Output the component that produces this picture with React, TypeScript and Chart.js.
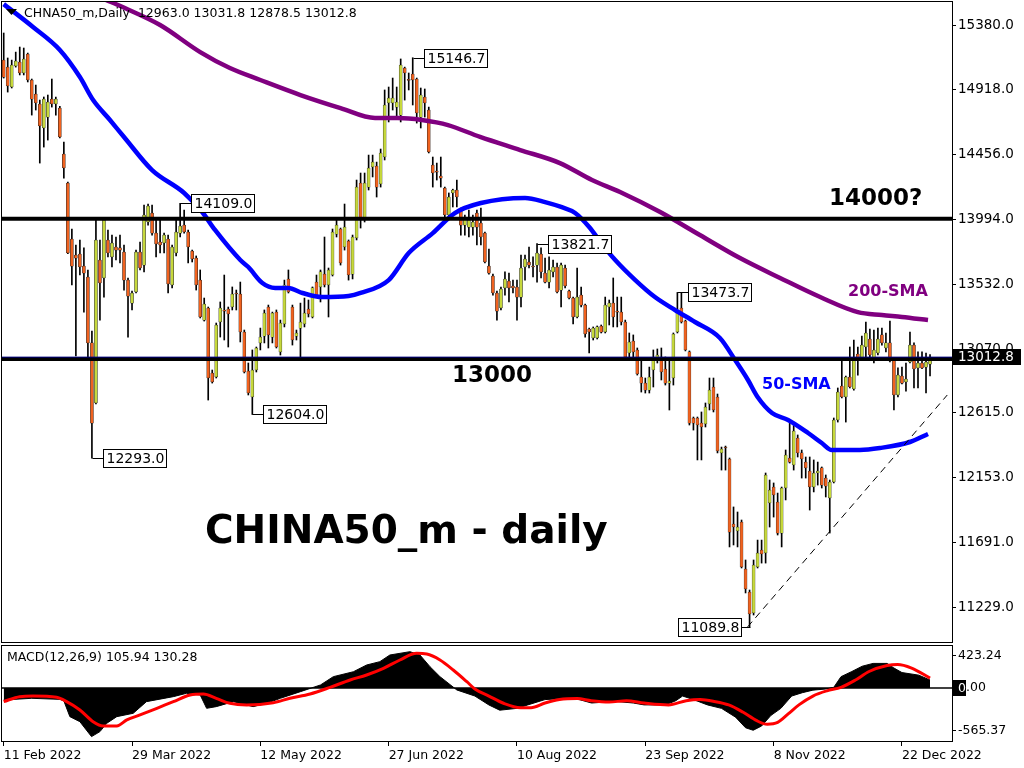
import React, { useEffect, useRef } from 'react';
import { Chart, registerables } from 'chart.js';

Chart.register(...registerables);

const FONT = '"DejaVu Sans", Verdana, sans-serif';

// ---- Daily candles (index 0 = 11 Feb 2022) ----
const openP = [
  15130,15080,14938,15088,15116,15038,15173,14988,14888,14817,
  14646,14724,14852,14817,14788,14460,14254,13855,13741,13748,
  13662,13584,13114,12686,13705,13577,13848,13727,13798,13791,
  13762,13562,13398,13477,13762,13669,13976,14040,13897,13833,
  13826,13855,13527,13755,13897,13954,13905,13769,13719,13562,
  13277,13363,12900,12871,13263,13349,13356,13370,13470,13463,
  13192,12914,12729,12921,13114,13163,13370,13156,13334,13050,
  13249,13570,13370,13163,13220,13249,13356,13299,13548,13513,
  13605,13527,13598,13890,13926,13798,13840,13605,13862,14254,
  13990,14225,14368,14375,14247,14439,14824,14824,14795,14738,
  15073,14988,15031,14995,14724,14867,14774,14382,14339,14304,
  14218,14026,14183,14204,14061,13954,13940,13940,14040,13969,
  13897,13662,13591,13470,13363,13506,13555,13520,13513,13441,
  13655,13691,13662,13669,13748,13612,13548,13620,13655,13491,
  13648,13484,13434,13299,13455,13384,13213,13149,13149,13235,
  13192,13370,13398,13341,13334,13263,13042,13128,13064,12871,
  12828,12778,12921,12992,13014,12928,12828,12864,13192,13363,
  13270,13050,12579,12579,12543,12536,12679,12800,12729,12330,
  12372,12287,11823,11774,11838,11503,11339,11189,11517,11638,
  11617,11973,12087,11980,11759,12080,12293,12244,12436,12330,
  12265,12201,12087,12187,12223,12151,12009,12123,12565,12807,
  12729,12871,12786,13035,13007,13085,13142,13007,13042,13171,
  13078,13114,13000,12743,12878,12836,12978,13099,12936,12971,
  12942,12963,
];
const highP = [
  15323,15145,15130,15187,15223,15216,15180,14995,14952,14845,
  14867,14881,14995,14867,14800,14546,14260,13926,13812,13848,
  13791,13634,13199,13990,13848,14000,13919,13883,13869,13883,
  13812,13577,13484,13776,13833,14097,14104,14097,13990,13990,
  13897,13883,13812,13990,14109,14061,13919,13776,13734,13634,
  13434,13370,12921,13256,13406,13598,13370,13513,13491,13548,
  13206,12971,13064,13085,13220,13349,13384,13334,13349,13277,
  13562,13634,13384,13206,13398,13434,13420,13513,13598,13634,
  13869,13648,13926,13990,13933,14104,13848,13883,14275,14325,
  14325,14453,14453,14403,14496,14917,14938,15002,14938,15138,
  15080,15038,15146.7,15002,14931,14924,14795,14439,14396,14439,
  14225,14183,14210,14275,14076,14026,14061,14026,14061,14076,
  13905,13783,13605,13484,13513,13620,13612,13562,13562,13741,
  13741,13798,13727,13821.7,13791,13719,13727,13705,13684,13684,
  13669,13491,13441,13648,13513,13391,13220,13228,13235,13242,
  13441,13420,13577,13441,13441,13277,13185,13171,13078,12992,
  12864,12942,13064,13071,13078,13014,12992,13185,13473.7,13470,
  13277,13057,12586,12586,12622,12686,12864,12864,12750,12372,
  12379,12294,11945,11909,11852,11567,11353,11567,11709,11709,
  12187,12137,12116,12044,12087,12351,12565,12529,12458,12351,
  12301,12301,12280,12265,12230,12173,12137,12579,12793,12992,
  12878,13085,13135,13085,13163,13263,13213,13206,13220,13220,
  13185,13270,13007,12936,12942,12971,13192,13114,13050,13050,
  13042,13031.8,
];
const lowP = [
  15002,14902,14931,15080,15024,15024,14974,14738,14774,14396,
  14510,14560,14795,14738,14575,14289,13750,13527,13021,13598,
  13334,13014,12293,12679,13277,13441,13727,13655,13705,13684,
  13491,13156,13349,13470,13634,13620,13954,13883,13727,13755,
  13755,13470,13506,13734,13869,13897,13684,13691,13491,13292,
  13270,12707,12828,12864,13156,13135,13085,13349,13349,13121,
  12900,12743,12604,12907,13064,13114,13078,13114,13078,13028,
  13228,13470,13099,13135,13014,13228,13299,13292,13441,13406,
  13513,13299,13591,13869,13669,13776,13562,13570,13848,13933,
  13976,14204,14297,14154,14225,14418,14689,14774,14724,14689,
  14845,14917,14810,14681,14646,14724,14468,14225,14275,14225,
  14011,14011,14083,14083,13883,13883,13869,13883,13812,13812,
  13684,13605,13455,13277,13349,13455,13406,13470,13277,13370,
  13562,13648,13584,13548,13577,13541,13506,13584,13470,13370,
  13506,13427,13249,13292,13370,13156,13042,13135,13142,13185,
  13185,13242,13228,13228,13242,13007,13014,13014,12885,12764,
  12757,12757,12800,12971,12850,12814,12636,12814,13185,13256,
  13057,12529,12493,12280,12280,12515,12636,12622,12330,12208,
  12208,11660,11674,11660,11510,11332,11089.8,11175,11510,11545,
  11545,11802,11873,11745,11660,11995,12258,12208,12301,12151,
  12151,11923,12052,12101,12080,12016,11759,12116,12550,12722,
  12550,12793,12778,12885,13000,13007,13014,12971,13028,13099,
  13050,12978,12636,12729,12822,12771,12971,12793,12793,12930,
  12757,12878.5,
];
const closeP = [
  15009,14945,15095,15123,15038,15138,14988,14852,14824,14660,
  14852,14831,14817,14852,14582,14361,13755,13662,13719,13655,
  13612,13114,12543,13848,13541,13990,13755,13826,13776,13776,
  13562,13448,13470,13762,13648,14026,14090,13897,13819,13812,
  13883,13534,13798,13905,13947,13905,13798,13712,13527,13299,
  13391,12864,12836,13242,13363,13341,13320,13463,13463,13192,
  12907,12757,12921,13078,13156,13327,13171,13327,13085,13256,
  13527,13477,13135,13185,13263,13327,13320,13506,13455,13620,
  13527,13634,13905,13954,13684,13940,13598,13869,14225,13990,
  14254,14361,14403,14225,14468,14810,14860,14860,14831,15095,
  15038,14985,14988,14753,14881,14824,14475,14325,14332,14289,
  14026,14154,14204,14154,13954,14011,13990,13976,13940,13869,
  13691,13612,13470,13341,13498,13570,13506,13506,13441,13648,
  13712,13669,13655,13755,13620,13548,13634,13655,13477,13669,
  13520,13434,13299,13441,13384,13178,13192,13220,13228,13190,
  13384,13398,13299,13334,13263,13014,13121,13050,12893,12828,
  12778,12871,13007,13028,12907,12828,12843,13178,13334,13263,
  13064,12543,12543,12529,12515,12657,12778,12636,12344,12358,
  12365,11766,11802,11802,11517,11360,11182,11531,11617,11610,
  12173,12066,12030,11759,12080,12315,12265,12486,12330,12287,
  12223,12087,12187,12201,12101,12094,12123,12565,12764,12729,
  12871,12800,13000,13007,13099,13185,13028,13064,13142,13114,
  13114,12985,12743,12885,12828,12857,13099,12928,12971,12936,
  12978,13012.8,
];

// ---- Axis ticks ----
const priceTicks = [15380, 14918, 14456, 13994, 13532, 13070, 12615, 12153, 11691, 11229];
const dateTickBars = [0, 32, 64, 96, 128, 160, 192, 224];
const dateTickLabels = ['11 Feb 2022', '29 Mar 2022', '12 May 2022', '27 Jun 2022', '10 Aug 2022', '23 Sep 2022', '8 Nov 2022', '22 Dec 2022'];
const macdTicks = [423.24, 0, -565.37];

// ---- Moving averages ----
const sma50Bars = [0, 7.3, 14, 19, 22.3, 26.5, 30, 37, 45, 49.5, 52.7, 59, 61, 64.5, 67.7, 71, 74.5, 79.4, 86, 89, 96, 101, 107, 112.5, 119, 130, 135, 139, 142.5, 146, 149, 152.5, 157.5, 162.4, 167.4, 172.4, 178.6, 182.4, 185.6, 188, 191.6, 195.6, 200.6, 204, 206.5, 213.5, 218.5, 226, 230.5];
const sma50Values = [15529, 15366, 15202, 15009, 14845, 14703, 14582, 14346, 14183, 14047, 13919, 13705, 13655, 13541, 13506, 13506, 13470, 13441, 13448, 13470, 13562, 13755, 13897, 14040, 14111, 14147, 14118, 14083, 14040, 13940, 13826, 13705, 13562, 13441, 13349, 13263, 13149, 12992, 12850, 12729, 12615, 12565, 12472, 12401, 12351, 12351, 12365, 12408, 12465];
const sma200Bars = [25, 30.2, 39, 49, 56.4, 64, 74, 84, 92.6, 98.3, 104.3, 110.8, 118.8, 128.8, 138.7, 146.7, 153.7, 163.7, 173.6, 183.6, 193.6, 203.6, 213, 219, 224, 230.5];
const sma200Values = [15565, 15501, 15380, 15187, 15073, 14988, 14881, 14788, 14717, 14717, 14703, 14667, 14582, 14489, 14396, 14275, 14190, 14047, 13883, 13719, 13577, 13441, 13334, 13313, 13299, 13277];

// ---- MACD (12,26,9) ----
const macdBars = [0, 7, 14, 15, 16.5, 19, 20.6, 21.9, 24, 25.7, 28.2, 32.3, 35.6, 42.3, 45.6, 49, 50.6, 53, 57.3, 62.2, 65.6, 69, 74, 79, 82.2, 87.2, 90.5, 93.8, 96.3, 101.3, 103.8, 106.3, 108.8, 113, 117.5, 121, 123.7, 128, 130.7, 135, 142, 146.6, 152.6, 157, 159.7, 165, 167.6, 169.3, 172, 175.5, 179, 182.5, 185, 186.9, 189, 191.3, 193.8, 196.5, 199.2, 201.8, 205, 207, 208.8, 211.5, 214.1, 216.8, 220.3, 222, 224, 228.2, 231];
const macdValues = [-158, -136, -150, -170, -378, -445, -554, -642, -576, -466, -378, -334, -180, -114, -70, -92, -268, -246, -180, -246, -202, -136, -48, 40, 150, 215, 304, 348, 436, 480, 436, 282, 150, -26, -106, -224, -293, -269, -223, -153, -131, -198, -177, -198, -223, -223, -168, -106, -153, -223, -269, -385, -525, -558, -502, -363, -269, -106, -61, -28, -13, 9, 150, 218, 288, 325, 325, 264, 204, 170, 105.94];
const signalBars = [0, 4, 7.3, 13.2, 15.7, 19, 22.3, 24.8, 28.2, 30.7, 34, 38.2, 42.3, 46.5, 49.8, 53, 56.4, 60.6, 67.2, 71.4, 76.4, 81.4, 86.4, 90.5, 94.7, 98.8, 103, 105.5, 108.8, 112.1, 115.5, 117.5, 121, 124.5, 128.9, 131.5, 135, 138.6, 143, 146.5, 151, 155.3, 159.7, 165.8, 170.2, 173.7, 177.2, 180.8, 184.3, 187.8, 190.4, 193, 195.7, 198.3, 201.8, 205.3, 208.8, 212.3, 215.8, 220.3, 222.9, 226.4, 231];
const signalValues = [-180, -114, -106, -123, -180, -290, -445, -502, -502, -422, -356, -268, -180, -92, -79, -136, -202, -224, -194, -136, -79, 9, 106, 172, 260, 370, 458, 449, 370, 238, 83, -13, -106, -198, -260, -260, -198, -153, -140, -168, -185, -168, -198, -223, -168, -153, -177, -223, -317, -432, -479, -455, -339, -223, -106, -37, 9, 102, 218, 297, 311, 264, 130.28];

// ---- Drawn objects ----
const levelValues = [14000, 13000];
const lastPrice = 13012.8;
const trendBars = [185.5, 235.3];
const trendValues = [11089.8, 12743];
const markBars = [22, 44, 62, 102, 133, 168, 186];
const markPrices = [12293.0, 14109.0, 12604.0, 15146.7, 13821.7, 13473.7, 11089.8];
const markSides = ['right', 'right', 'right', 'right', 'right', 'right', 'left'];

const X_MIN = -0.424;
const X_MAX = 236.48;

const bullColor = '#c6d83c';
const bearColor = '#f0621f';

const pts = (xs: number[], ys: number[]) => xs.map((x, k) => ({ x, y: ys[k] }));

const noPad = (s: any) => {
  s.paddingTop = 0;
  s.paddingBottom = 0;
  s.paddingLeft = 0;
  s.paddingRight = 0;
};

const framePlugin = {
  id: 'frame',
  afterDraw(chart: any) {
    const { ctx, chartArea: ca } = chart;
    ctx.save();
    ctx.strokeStyle = '#000';
    ctx.lineWidth = 1;
    ctx.strokeRect(ca.left - 0.5, ca.top - 0.5, ca.right - ca.left + 1, ca.bottom - ca.top + 1);
    ctx.restore();
  },
};

const mainDecor = {
  id: 'mainDecor',
  afterDatasetsDraw(chart: any) {
    const { ctx, scales } = chart;
    const x = scales.x, y = scales.y;
    ctx.save();
    // price labels
    ctx.font = `14px ${FONT}`;
    ctx.textBaseline = 'middle';
    ctx.textAlign = 'left';
    markBars.forEach((b, k) => {
      const px = Math.round(x.getPixelForValue(b)) + 0.5;
      const py = Math.round(y.getPixelForValue(markPrices[k])) + 0.5;
      const txt = markPrices[k].toFixed(1);
      const w = Math.ceil(ctx.measureText(txt).width) + 5;
      const h = 18;
      const gap = 10;
      const bx = Math.round(markSides[k] === 'left' ? px - gap - w : px + gap) + 0.5;
      ctx.strokeStyle = '#000';
      ctx.lineWidth = 1;
      ctx.beginPath();
      ctx.moveTo(px, py);
      ctx.lineTo(markSides[k] === 'left' ? bx + w : bx, py);
      ctx.stroke();
      ctx.fillStyle = '#fff';
      ctx.fillRect(bx, py - h / 2, w, h);
      ctx.strokeRect(bx, py - h / 2, w, h);
      ctx.fillStyle = '#000';
      ctx.fillText(txt, bx + 3, py + 0.5);
    });
    // big texts
    ctx.textBaseline = 'alphabetic';
    ctx.fillStyle = '#000';
    ctx.font = `bold 23px ${FONT}`;
    ctx.fillText('14000?', 829, 205);
    ctx.fillText('13000', 452, 382);
    ctx.font = `bold 16px ${FONT}`;
    ctx.fillStyle = '#800080';
    ctx.fillText('200-SMA', 848, 296);
    ctx.fillStyle = '#0000ff';
    ctx.fillText('50-SMA', 762, 389);
    ctx.fillStyle = '#000';
    ctx.font = `bold 39px ${FONT}`;
    ctx.fillText('CHINA50_m - daily', 205, 543);
    // header
    ctx.beginPath();
    ctx.moveTo(6, 9);
    ctx.lineTo(17, 9);
    ctx.lineTo(11.5, 15);
    ctx.closePath();
    ctx.fill();
    ctx.font = `12.5px ${FONT}`;
    ctx.textBaseline = 'middle';
    ctx.fillText('CHNA50_m,Daily  12963.0 13031.8 12878.5 13012.8', 24, 14);
    ctx.restore();
  },
  afterDraw(chart: any) {
    const { ctx, scales, chartArea: ca } = chart;
    const py = Math.round(scales.y.getPixelForValue(lastPrice));
    ctx.save();
    ctx.fillStyle = '#000';
    ctx.fillRect(ca.right + 1, py - 8, 68, 16);
    ctx.fillStyle = '#fff';
    ctx.font = `13.5px ${FONT}`;
    ctx.textBaseline = 'middle';
    ctx.textAlign = 'left';
    ctx.fillText(lastPrice.toFixed(1), ca.right + 6, py + 0.5);
    ctx.restore();
  },
};

const macdDecor = {
  id: 'macdDecor',
  afterDraw(chart: any) {
    const { ctx, scales, chartArea: ca } = chart;
    ctx.save();
    ctx.fillStyle = '#000';
    ctx.font = `12.5px ${FONT}`;
    ctx.textBaseline = 'middle';
    ctx.textAlign = 'left';
    ctx.fillText('MACD(12,26,9) 105.94 130.28', 7, 14);
    const py = Math.round(scales.y.getPixelForValue(0));
    ctx.fillRect(ca.right + 1, py - 8, 13, 16);
    ctx.fillStyle = '#fff';
    ctx.fillText('0', ca.right + 6, py + 0.5);
    ctx.restore();
  },
};

function mainConfig(): any {
  const bodies = openP.map((o, i) => ({ x: i, y: [Math.min(o, closeP[i]), Math.max(o, closeP[i])] }));
  const wicks = openP.map((_, i) => ({ x: i, y: [lowP[i], highP[i]] }));
  const bodyColors = openP.map((o, i) => (closeP[i] >= o ? bullColor : bearColor));
  const level = (v: number) => [{ x: X_MIN - 3, y: v }, { x: X_MAX + 3, y: v }];
  return {
    type: 'bar',
    data: {
      datasets: [
        { type: 'bar', data: wicks, backgroundColor: '#000', barThickness: 1, grouped: false, order: 10 },
        {
          type: 'bar', data: bodies, backgroundColor: bodyColors, borderColor: '#222', borderWidth: 0.5,
          borderSkipped: false, barThickness: 3, minBarLength: 1, grouped: false, order: 9,
        },
        { type: 'line', data: pts(sma200Bars, sma200Values), borderColor: '#800080', borderWidth: 4.5, pointRadius: 0, cubicInterpolationMode: 'monotone', order: 6 },
        { type: 'line', data: pts(sma50Bars, sma50Values), borderColor: '#0000ff', borderWidth: 4.5, pointRadius: 0, cubicInterpolationMode: 'monotone', order: 5 },
        { type: 'line', data: level(levelValues[0]), borderColor: '#000', borderWidth: 4, pointRadius: 0, order: 4 },
        { type: 'line', data: level(levelValues[1]), borderColor: '#000', borderWidth: 4, pointRadius: 0, order: 3 },
        { type: 'line', data: level(lastPrice), borderColor: '#000080', borderWidth: 1, pointRadius: 0, order: 2 },
        { type: 'line', data: pts(trendBars, trendValues), borderColor: '#000', borderWidth: 1, borderDash: [7, 5], pointRadius: 0, order: 1 },
      ],
    },
    options: {
      responsive: false,
      animation: false,
      devicePixelRatio: 1,
      events: [],
      layout: { padding: { left: 2, top: 2, right: 0, bottom: 2 } },
      plugins: { legend: { display: false }, tooltip: { enabled: false } },
      scales: {
        x: { type: 'linear', min: X_MIN, max: X_MAX, display: false, offset: false, grid: { offset: false }, afterFit: noPad },
        y: {
          type: 'linear', position: 'right', min: 10982.5, max: 15544,
          afterFit: (s: any) => { s.width = 72; noPad(s); },
          afterBuildTicks: (s: any) => { s.ticks = priceTicks.map((v) => ({ value: v })); },
          ticks: { autoSkip: false, padding: 2, color: '#000', font: { family: FONT, size: 13.5 }, callback: (v: any) => Number(v).toFixed(1) },
          grid: { drawOnChartArea: false, drawTicks: true, tickLength: 4, color: '#000' },
          border: { display: true, color: '#000' },
        },
      },
    },
    plugins: [mainDecor, framePlugin],
  };
}

function macdConfig(): any {
  const zero = [{ x: X_MIN - 3, y: 0 }, { x: X_MAX + 3, y: 0 }];
  return {
    type: 'line',
    data: {
      datasets: [
        { data: pts(macdBars, macdValues), borderColor: '#000', backgroundColor: '#000', borderWidth: 1, fill: 'origin', pointRadius: 0, tension: 0, order: 3 },
        { data: zero, borderColor: '#000', borderWidth: 1.5, pointRadius: 0, order: 2 },
        { data: pts(signalBars, signalValues), borderColor: '#ff0000', borderWidth: 3, pointRadius: 0, cubicInterpolationMode: 'monotone', order: 1 },
      ],
    },
    options: {
      responsive: false,
      animation: false,
      devicePixelRatio: 1,
      events: [],
      layout: { padding: { left: 2, top: 2, right: 0, bottom: 0 } },
      plugins: { legend: { display: false }, tooltip: { enabled: false } },
      scales: {
        x: {
          type: 'linear', min: X_MIN, max: X_MAX, offset: false,
          afterFit: (s: any) => { s.height = 27; noPad(s); },
          afterBuildTicks: (s: any) => { s.ticks = dateTickBars.map((v) => ({ value: v })); },
          ticks: {
            autoSkip: false, maxRotation: 0, align: 'start', padding: 2, color: '#000',
            font: { family: FONT, size: 12.5 },
            callback: (v: any) => { const k = dateTickBars.indexOf(Number(v)); return k >= 0 ? dateTickLabels[k] : ''; },
          },
          grid: { drawOnChartArea: false, drawTicks: true, tickLength: 5, color: '#000' },
          border: { display: true, color: '#000' },
        },
        y: {
          type: 'linear', position: 'right', min: -700, max: 555,
          afterFit: (s: any) => { s.width = 72; noPad(s); },
          afterBuildTicks: (s: any) => { s.ticks = macdTicks.map((v) => ({ value: v })); },
          ticks: { autoSkip: false, padding: 2, color: '#000', font: { family: FONT, size: 12.5 }, callback: (v: any) => Number(v).toFixed(2) },
          grid: { drawOnChartArea: false, drawTicks: true, tickLength: 4, color: '#000' },
          border: { display: true, color: '#000' },
        },
      },
    },
    plugins: [macdDecor, framePlugin],
  };
}

export default function App() {
  const mainRef = useRef<HTMLCanvasElement>(null);
  const macdRef = useRef<HTMLCanvasElement>(null);
  useEffect(() => {
    const main = new Chart(mainRef.current as HTMLCanvasElement, mainConfig());
    const macd = new Chart(macdRef.current as HTMLCanvasElement, macdConfig());
    return () => {
      main.destroy();
      macd.destroy();
    };
  }, []);
  return (
    <div style={{ position: 'fixed', left: 0, top: 0, width: 1024, height: 768, background: '#fff' }}>
      <canvas ref={mainRef} width={1024} height={644} style={{ position: 'absolute', left: 0, top: 0, width: 1024, height: 644 }} />
      <canvas ref={macdRef} width={1024} height={124} style={{ position: 'absolute', left: 0, top: 644, width: 1024, height: 124 }} />
    </div>
  );
}
